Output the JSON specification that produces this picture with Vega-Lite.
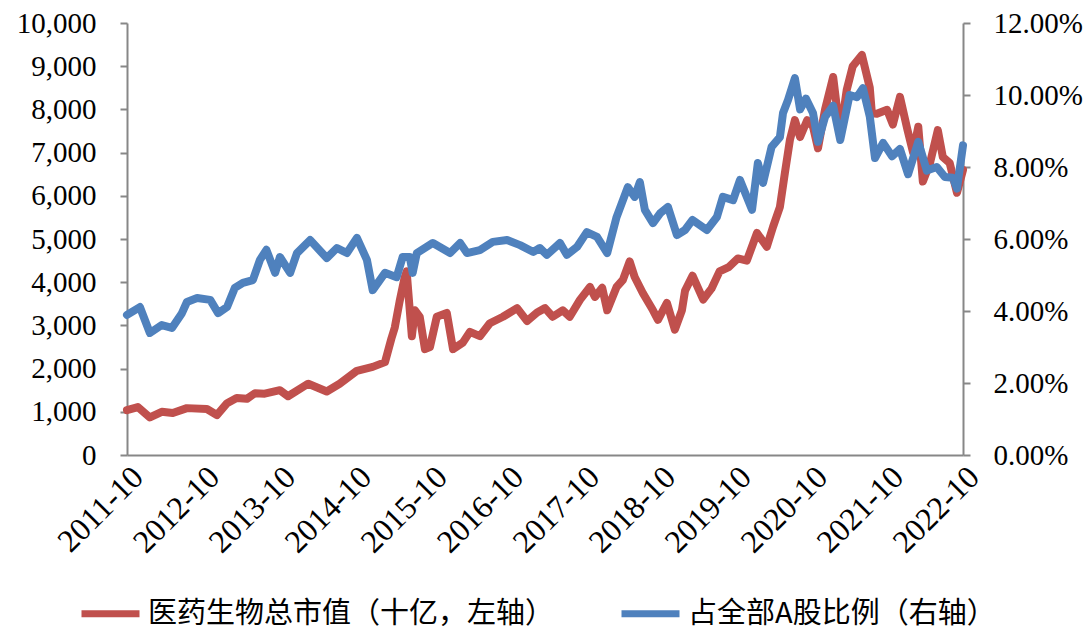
{
  "$schema": "https://vega.github.io/schema/vega-lite/v6.json",
  "width": 836,
  "height": 432,
  "autosize": {"type": "none"},
  "padding": {"left": 127, "top": 23, "right": 129, "bottom": 177},
  "background": "white",
  "config": {
    "view": {"stroke": null},
    "axis": {"grid": false, "labelFont": "Liberation Serif", "labelFontSize": 29, "labelColor": "#000000", "domainColor": "#878787", "domainWidth": 2, "tickColor": "#878787", "tickWidth": 2, "tickSize": 7}
  },
  "datasets": {
    "mv": [
      {"date": "2011-10-01", "value": 1040}, {"date": "2011-11-22", "value": 1110}, {"date": "2012-01-19", "value": 870},
      {"date": "2012-03-16", "value": 1000}, {"date": "2012-05-08", "value": 970}, {"date": "2012-07-15", "value": 1085},
      {"date": "2012-10-19", "value": 1065}, {"date": "2012-12-06", "value": 925}, {"date": "2013-01-24", "value": 1200},
      {"date": "2013-03-11", "value": 1320}, {"date": "2013-04-29", "value": 1300}, {"date": "2013-06-07", "value": 1430},
      {"date": "2013-07-24", "value": 1420}, {"date": "2013-10-05", "value": 1500}, {"date": "2013-11-13", "value": 1360},
      {"date": "2014-02-18", "value": 1650}, {"date": "2014-05-18", "value": 1470}, {"date": "2014-07-19", "value": 1650},
      {"date": "2014-10-10", "value": 1950}, {"date": "2014-12-25", "value": 2040}, {"date": "2015-02-22", "value": 2150},
      {"date": "2015-03-25", "value": 2700}, {"date": "2015-04-10", "value": 2950}, {"date": "2015-05-03", "value": 3550},
      {"date": "2015-05-27", "value": 4100}, {"date": "2015-06-06", "value": 4250}, {"date": "2015-07-01", "value": 2750},
      {"date": "2015-07-16", "value": 3350}, {"date": "2015-08-08", "value": 3200}, {"date": "2015-09-02", "value": 2450},
      {"date": "2015-09-26", "value": 2500}, {"date": "2015-10-29", "value": 3200}, {"date": "2015-12-16", "value": 3290},
      {"date": "2016-01-15", "value": 2450}, {"date": "2016-03-02", "value": 2600}, {"date": "2016-04-05", "value": 2850},
      {"date": "2016-05-23", "value": 2750}, {"date": "2016-07-10", "value": 3050}, {"date": "2016-09-11", "value": 3200},
      {"date": "2016-11-18", "value": 3400}, {"date": "2017-01-05", "value": 3100}, {"date": "2017-02-22", "value": 3300},
      {"date": "2017-04-01", "value": 3400}, {"date": "2017-05-08", "value": 3200}, {"date": "2017-06-25", "value": 3350},
      {"date": "2017-07-29", "value": 3200}, {"date": "2017-09-16", "value": 3590}, {"date": "2017-11-03", "value": 3890},
      {"date": "2017-11-27", "value": 3660}, {"date": "2018-01-01", "value": 3870}, {"date": "2018-01-25", "value": 3350},
      {"date": "2018-03-11", "value": 3890}, {"date": "2018-04-10", "value": 4050}, {"date": "2018-05-13", "value": 4480},
      {"date": "2018-06-06", "value": 4120}, {"date": "2018-07-15", "value": 3750}, {"date": "2018-09-02", "value": 3350},
      {"date": "2018-09-26", "value": 3130}, {"date": "2018-11-08", "value": 3520}, {"date": "2018-12-16", "value": 2900},
      {"date": "2019-01-19", "value": 3350}, {"date": "2019-02-03", "value": 3800}, {"date": "2019-03-11", "value": 4150},
      {"date": "2019-05-01", "value": 3600}, {"date": "2019-06-10", "value": 3850}, {"date": "2019-07-19", "value": 4250},
      {"date": "2019-09-01", "value": 4350}, {"date": "2019-10-15", "value": 4550}, {"date": "2019-11-27", "value": 4500},
      {"date": "2020-01-15", "value": 5140}, {"date": "2020-03-02", "value": 4820}, {"date": "2020-04-01", "value": 5280},
      {"date": "2020-05-04", "value": 5740}, {"date": "2020-05-28", "value": 6530}, {"date": "2020-06-21", "value": 7290},
      {"date": "2020-07-15", "value": 7750}, {"date": "2020-08-09", "value": 7360}, {"date": "2020-09-12", "value": 7750},
      {"date": "2020-10-10", "value": 7600}, {"date": "2020-11-03", "value": 7100}, {"date": "2020-12-07", "value": 8000},
      {"date": "2021-01-15", "value": 8750}, {"date": "2021-02-18", "value": 7400}, {"date": "2021-03-21", "value": 8450},
      {"date": "2021-04-19", "value": 9000}, {"date": "2021-06-02", "value": 9260}, {"date": "2021-07-10", "value": 8500},
      {"date": "2021-07-20", "value": 7910}, {"date": "2021-08-13", "value": 7900}, {"date": "2021-10-01", "value": 7990},
      {"date": "2021-10-29", "value": 7650}, {"date": "2021-12-02", "value": 8290}, {"date": "2022-01-06", "value": 7550},
      {"date": "2022-02-03", "value": 7000}, {"date": "2022-02-28", "value": 7600}, {"date": "2022-03-22", "value": 6330},
      {"date": "2022-04-25", "value": 6750}, {"date": "2022-06-02", "value": 7520}, {"date": "2022-06-26", "value": 6900},
      {"date": "2022-07-29", "value": 6760}, {"date": "2022-09-02", "value": 6070}, {"date": "2022-10-01", "value": 6600}
    ],
    "pct": [
      {"date": "2011-10-01", "value": 3.89}, {"date": "2011-12-02", "value": 4.11}, {"date": "2012-01-19", "value": 3.39},
      {"date": "2012-03-16", "value": 3.61}, {"date": "2012-05-04", "value": 3.53}, {"date": "2012-06-21", "value": 3.94},
      {"date": "2012-07-15", "value": 4.25}, {"date": "2012-09-02", "value": 4.36}, {"date": "2012-11-04", "value": 4.31},
      {"date": "2012-12-12", "value": 3.94}, {"date": "2013-01-24", "value": 4.11}, {"date": "2013-03-02", "value": 4.64},
      {"date": "2013-04-10", "value": 4.78}, {"date": "2013-05-28", "value": 4.86}, {"date": "2013-07-01", "value": 5.42},
      {"date": "2013-08-01", "value": 5.7}, {"date": "2013-09-12", "value": 5.06}, {"date": "2013-10-05", "value": 5.5},
      {"date": "2013-11-23", "value": 5.06}, {"date": "2013-12-26", "value": 5.61}, {"date": "2014-02-27", "value": 5.97},
      {"date": "2014-05-18", "value": 5.47}, {"date": "2014-07-06", "value": 5.75}, {"date": "2014-08-23", "value": 5.61},
      {"date": "2014-10-10", "value": 6.03}, {"date": "2014-11-27", "value": 5.42}, {"date": "2014-12-25", "value": 4.58},
      {"date": "2015-02-22", "value": 5.06}, {"date": "2015-04-19", "value": 4.94}, {"date": "2015-05-18", "value": 5.5},
      {"date": "2015-06-21", "value": 5.5}, {"date": "2015-07-05", "value": 5.06}, {"date": "2015-07-25", "value": 5.61},
      {"date": "2015-10-10", "value": 5.89}, {"date": "2016-01-01", "value": 5.61}, {"date": "2016-02-18", "value": 5.89},
      {"date": "2016-03-22", "value": 5.61}, {"date": "2016-05-23", "value": 5.69}, {"date": "2016-07-24", "value": 5.92},
      {"date": "2016-10-01", "value": 5.97}, {"date": "2016-12-02", "value": 5.83}, {"date": "2017-02-04", "value": 5.64},
      {"date": "2017-03-07", "value": 5.75}, {"date": "2017-04-10", "value": 5.56}, {"date": "2017-06-12", "value": 5.89},
      {"date": "2017-07-15", "value": 5.56}, {"date": "2017-09-02", "value": 5.78}, {"date": "2017-10-19", "value": 6.19},
      {"date": "2017-12-07", "value": 6.06}, {"date": "2018-01-25", "value": 5.61}, {"date": "2018-03-11", "value": 6.61},
      {"date": "2018-05-04", "value": 7.44}, {"date": "2018-06-06", "value": 7.17}, {"date": "2018-07-01", "value": 7.58},
      {"date": "2018-07-25", "value": 6.81}, {"date": "2018-09-02", "value": 6.44}, {"date": "2018-10-07", "value": 6.72},
      {"date": "2018-11-13", "value": 6.89}, {"date": "2018-12-26", "value": 6.11}, {"date": "2019-02-03", "value": 6.25},
      {"date": "2019-03-11", "value": 6.53}, {"date": "2019-05-19", "value": 6.25}, {"date": "2019-07-06", "value": 6.61},
      {"date": "2019-08-04", "value": 7.17}, {"date": "2019-09-22", "value": 7.08}, {"date": "2019-10-25", "value": 7.64},
      {"date": "2019-12-22", "value": 6.81}, {"date": "2020-01-19", "value": 8.11}, {"date": "2020-02-13", "value": 7.56},
      {"date": "2020-03-25", "value": 8.56}, {"date": "2020-05-04", "value": 8.83}, {"date": "2020-05-19", "value": 9.5},
      {"date": "2020-06-12", "value": 9.86}, {"date": "2020-07-15", "value": 10.47}, {"date": "2020-08-09", "value": 9.6},
      {"date": "2020-09-06", "value": 9.9}, {"date": "2020-10-10", "value": 9.5}, {"date": "2020-11-03", "value": 8.7},
      {"date": "2020-12-07", "value": 9.39}, {"date": "2021-01-15", "value": 9.7}, {"date": "2021-02-18", "value": 8.75},
      {"date": "2021-04-04", "value": 10.0}, {"date": "2021-05-09", "value": 9.94}, {"date": "2021-06-07", "value": 10.19},
      {"date": "2021-07-10", "value": 9.4}, {"date": "2021-08-04", "value": 8.25}, {"date": "2021-09-12", "value": 8.67},
      {"date": "2021-10-25", "value": 8.3}, {"date": "2021-12-02", "value": 8.5}, {"date": "2022-01-10", "value": 7.8},
      {"date": "2022-02-28", "value": 8.7}, {"date": "2022-04-10", "value": 7.9}, {"date": "2022-05-28", "value": 8.0},
      {"date": "2022-07-06", "value": 7.72}, {"date": "2022-08-13", "value": 7.7}, {"date": "2022-09-02", "value": 7.4},
      {"date": "2022-10-01", "value": 8.6}
    ]
  },
  "layer": [
    {
      "data": {"name": "mv"},
      "mark": {"type": "line", "strokeWidth": 8, "strokeCap": "round", "strokeJoin": "round"},
      "encoding": {
        "x": {
          "field": "date", "type": "temporal",
          "scale": {"domain": [{"year": 2011, "month": 10, "date": 1}, {"year": 2022, "month": 10, "date": 1}]},
          "axis": {
            "title": null, "ticks": false, "labelAngle": -45, "labelAlign": "right", "labelBaseline": "top",
            "labelPadding": 6, "labelFontSize": 32, "labelDx": -6, "labelDy": 3, "format": "%Y-%m", "labelOverlap": false, "labelFlush": false, "labelBound": false,
            "values": [
              {"year": 2011, "month": 10, "date": 1}, {"year": 2012, "month": 10, "date": 1}, {"year": 2013, "month": 10, "date": 1},
              {"year": 2014, "month": 10, "date": 1}, {"year": 2015, "month": 10, "date": 1}, {"year": 2016, "month": 10, "date": 1},
              {"year": 2017, "month": 10, "date": 1}, {"year": 2018, "month": 10, "date": 1}, {"year": 2019, "month": 10, "date": 1},
              {"year": 2020, "month": 10, "date": 1}, {"year": 2021, "month": 10, "date": 1}, {"year": 2022, "month": 10, "date": 1}
            ]
          }
        },
        "y": {
          "field": "value", "type": "quantitative",
          "scale": {"domain": [0, 10000], "nice": false},
          "axis": {"orient": "left", "title": null, "values": [0, 1000, 2000, 3000, 4000, 5000, 6000, 7000, 8000, 9000, 10000], "format": ",d", "labelPadding": 24}
        },
        "color": {
          "datum": "医药生物总市值（十亿，左轴）", "type": "nominal",
          "scale": {"domain": ["医药生物总市值（十亿，左轴）", "占全部A股比例（右轴）"], "range": ["#C0504D", "#4F81BD"]},
          "legend": {
            "orient": "none", "legendX": -49, "legendY": 558, "direction": "horizontal", "title": null,
            "symbolType": "stroke", "symbolSize": 3364, "symbolStrokeWidth": 7,
            "labelFont": "Noto Sans CJK SC", "labelFontSize": 29, "labelColor": "#000000", "labelLimit": 1000,
            "labelOffset": 5, "columnPadding": 52
          }
        }
      }
    },
    {
      "data": {"name": "pct"},
      "mark": {"type": "line", "strokeWidth": 8, "strokeCap": "round", "strokeJoin": "round"},
      "encoding": {
        "x": {"field": "date", "type": "temporal"},
        "y": {
          "field": "value", "type": "quantitative",
          "scale": {"domain": [0, 12], "nice": false},
          "axis": {"orient": "right", "title": null, "values": [0, 2, 4, 6, 8, 10, 12], "labelExpr": "format(datum.value, '.2f') + '%'", "labelPadding": 23}
        },
        "color": {"datum": "占全部A股比例（右轴）", "type": "nominal"}
      }
    }
  ],
  "resolve": {"scale": {"y": "independent"}, "axis": {"y": "independent"}}
}
